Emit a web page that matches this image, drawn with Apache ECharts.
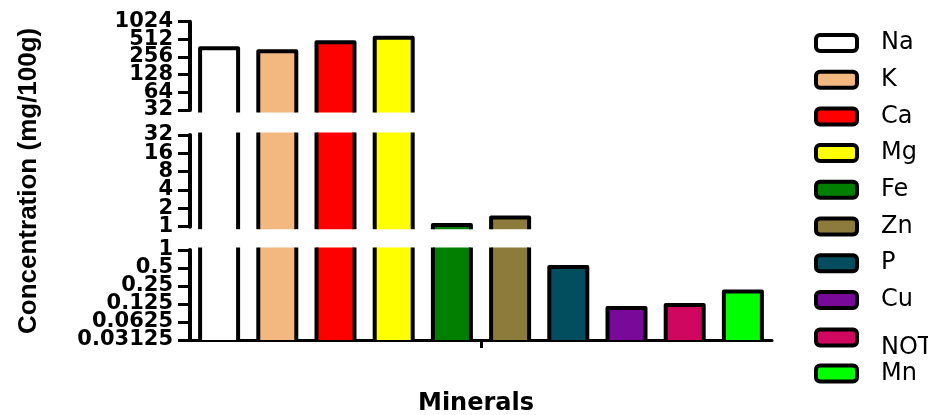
<!DOCTYPE html>
<html>
<head>
<meta charset="utf-8">
<script src="https://cdn.jsdelivr.net/npm/echarts@6/dist/echarts.min.js"></script>
<style>
  html, body { margin: 0; padding: 0; background: #fff; }
  #chart { width: 928px; height: 415px; }
</style>
</head>
<body>
<div id="chart"></div>
<script>
// Mineral content, mg per 100 g
const minerals = ['Na', 'K', 'Ca', 'Mg', 'Fe', 'Zn', 'P', 'Cu', 'NOT', 'Mn'];
const concentration = [360, 321, 458, 545, 1.07, 1.41, 0.52, 0.107, 0.120, 0.203];
const barColors = ['#ffffff', '#f2b880', '#ff0000', '#ffff00', '#007f00',
                   '#8c7b3a', '#034e5e', '#790a99', '#cf075f', '#00ff00'];

// Broken log2 y axis: tick values of each segment, top to bottom
const topTicks = [32, 64, 128, 256, 512, 1024];
const midTicks = [1, 2, 4, 8, 16, 32];
const lowTicks = [0.03125, 0.0625, 0.125, 0.25, 0.5, 1];
const segmentTicks = [topTicks, midTicks, lowTicks];

// Layout of the three stacked plot segments (pixels)
const PLOT_LEFT = 190;
const PLOT_WIDTH = 582;
const segmentBoxes = [
  { top: 21.7, height: 88.3 },
  { top: 135, height: 91.7 },
  { top: 250, height: 90 }
];
const BAR_RATIO = 0.653;   // bar width as a share of the category band
const OVERHANG = 2.5;      // how far a cut bar runs past its segment edge
const EDGE = 4;            // bar outline width
const PAD = 1.0005;        // keeps the end ticks just inside each segment

const AXIS_FONT = 'DejaVu Sans';
const fmtTick = v => String(+Number(v).toPrecision(6));

function makeRenderItem(seg, color) {
  const ticks = segmentTicks[seg];
  const lo = ticks[0];
  const hi = ticks[ticks.length - 1];
  const isBottom = seg === segmentTicks.length - 1;
  return function (params, api) {
    const v = api.value(1);
    if (!(v > lo)) return;
    const cat = api.value(0);
    const cs = params.coordSys;
    const w = api.size([1, 0])[0] * BAR_RATIO;
    const cx = api.coord([cat, lo])[0];
    const x0 = cx - w / 2, x1 = cx + w / 2;
    const cutTop = v > hi;
    const yTop = cutTop ? cs.y - OVERHANG : api.coord([cat, v])[1];
    const yBot = isBottom ? cs.y + cs.height : cs.y + cs.height + OVERHANG;
    const line = { stroke: '#000', lineWidth: EDGE, fill: null, lineJoin: 'round', lineCap: 'butt' };
    const children = [{
      type: 'rect',
      shape: { x: x0, y: yTop, width: w, height: yBot - yTop },
      style: { fill: color }
    }];
    if (cutTop) {
      children.push({ type: 'polyline', shape: { points: [[x0, yTop], [x0, yBot]] }, style: line });
      children.push({ type: 'polyline', shape: { points: [[x1, yTop], [x1, yBot]] }, style: line });
    } else {
      children.push({ type: 'polyline', shape: { points: [[x0, yBot], [x0, yTop], [x1, yTop], [x1, yBot]] }, style: line });
    }
    return { type: 'group', children: children };
  };
}

const grids = segmentBoxes.map(b => ({
  left: PLOT_LEFT, width: PLOT_WIDTH, top: b.top, height: b.height,
  containLabel: false, outerBoundsMode: 'none'
}));
const lastSeg = segmentTicks.length - 1;

const xAxes = segmentTicks.map((t, g) => {
  const bottom = g === lastSeg;
  return {
    type: 'category',
    gridIndex: g,
    position: 'bottom',
    data: minerals,
    boundaryGap: true,
    show: bottom,
    axisLine: { show: bottom, lineStyle: { color: '#000', width: 3 } },
    axisTick: { show: false },
    axisLabel: { show: false },
    splitLine: { show: false },
    name: bottom ? 'Minerals' : '',
    nameLocation: 'middle',
    nameGap: 52,
    nameTextStyle: { fontFamily: AXIS_FONT, fontWeight: 'bold', fontSize: 24, color: '#000', padding: [0, 10, 0, 0] }
  };
});
// single centre tick under the x axis
xAxes.push({
  type: 'value',
  gridIndex: lastSeg,
  position: 'bottom',
  min: 0,
  max: 2,
  interval: 1,
  axisLine: { show: false, onZero: false },
  axisTick: { show: true, length: 8, lineStyle: { color: '#000', width: 3 }, customValues: [1] },
  axisLabel: { show: false },
  splitLine: { show: false }
});

// Each segment gets two overlaid log axes: the first draws the line, all ticks
// and every other label, the second draws the remaining labels, so that the
// tightly packed labels are all kept.
const yAxes = [];
segmentTicks.forEach((t, g) => {
  const common = {
    type: 'log',
    logBase: 2,
    gridIndex: g,
    position: 'left',
    min: t[0] / PAD,
    max: t[t.length - 1] * PAD,
    splitLine: { show: false }
  };
  const labelStyle = {
    show: true, margin: 17, color: '#000',
    fontFamily: AXIS_FONT, fontWeight: 'bold', fontSize: 21,
    formatter: fmtTick,
    hideOverlap: false,
    showMinLabel: true, showMaxLabel: true
  };
  yAxes.push(Object.assign({}, common, {
    axisLine: { show: true, onZero: false, lineStyle: { color: '#000', width: 4 } },
    axisTick: { show: true, inside: false, length: 12, lineStyle: { color: '#000', width: 3 }, customValues: t },
    axisLabel: Object.assign({}, labelStyle, { customValues: t.filter((v, i) => i % 2 === 0) }),
    name: g === 1 ? 'Concentration (mg/100g)' : '',
    nameLocation: 'middle',
    nameGap: 148,
    nameTextStyle: { fontFamily: 'Liberation Sans', fontWeight: 'bold', fontSize: 26, color: '#000' }
  }));
  yAxes.push(Object.assign({}, common, {
    axisLine: { show: false, onZero: false },
    axisTick: { show: false },
    axisLabel: Object.assign({}, labelStyle, { customValues: t.filter((v, i) => i % 2 === 1) })
  }));
});

const series = [];
segmentTicks.forEach((t, g) => {
  minerals.forEach((m, i) => {
    series.push({
      type: 'custom',
      name: m,
      xAxisIndex: g,
      yAxisIndex: 2 * g,
      clip: false,
      itemStyle: { color: barColors[i], borderColor: '#000', borderWidth: EDGE },
      encode: { x: 0, y: 1 },
      data: [[m, concentration[i]]],
      renderItem: makeRenderItem(g, barColors[i])
    });
  });
});

// Legend: the NOT entry carries its label a little below the swatch
const legendText = { fontFamily: 'DejaVu Sans', fontSize: 24, color: '#000', lineHeight: 24, padding: [0, 0, 0, 19] };
const legendBase = {
  orient: 'vertical',
  left: 814,
  padding: 0,
  itemWidth: 41,
  itemHeight: 16,
  itemGap: 12.7,
  icon: 'roundRect',
  selectedMode: false,
  itemStyle: { borderColor: '#000', borderWidth: EDGE },
  textStyle: legendText
};
const legends = [
  Object.assign({}, legendBase, { top: 31, data: minerals.slice(0, 8) }),
  Object.assign({}, legendBase, {
    top: 315, data: ['NOT'],
    formatter: name => '{low|' + name + '}',
    textStyle: Object.assign({}, legendText, {
      rich: { low: { fontFamily: 'DejaVu Sans', fontSize: 24, color: '#000', lineHeight: 24, padding: [21, 0, 0, 0] } }
    })
  }),
  Object.assign({}, legendBase, { top: 361.5, data: ['Mn'] })
];

const chart = echarts.init(document.getElementById('chart'), null, { renderer: 'canvas' });
chart.setOption({
  animation: false,
  backgroundColor: '#fff',
  grid: grids,
  xAxis: xAxes,
  yAxis: yAxes,
  legend: legends,
  series: series
});
</script>
</body>
</html>
